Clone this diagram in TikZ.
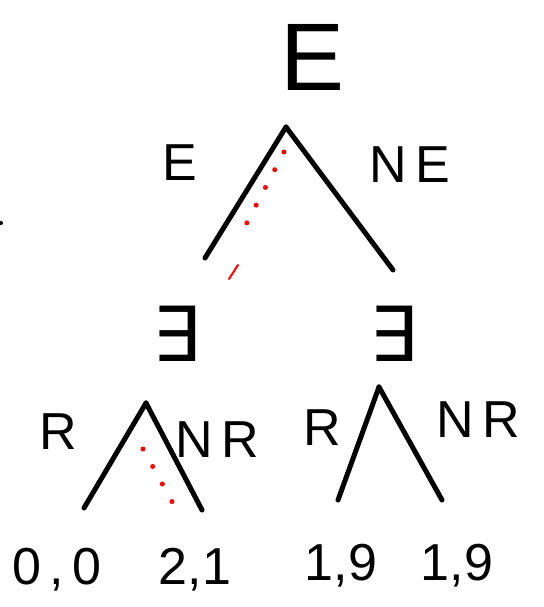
\documentclass[tikz,border=0pt]{standalone}
\usepackage{fontspec}
\setmainfont{Liberation Sans}
\newfontfamily\dejavu{DejaVu Sans}
\begin{document}
\begin{tikzpicture}[x=1pt,y=-1pt,
  branch/.style={line width=5pt,line cap=round,black},
  redpath/.style={red,line width=5pt,line cap=round,dash pattern=on 0pt off 20pt},
  player/.style={inner sep=0pt,font=\dejavu\fontsize{76}{76}\selectfont},
  act/.style={inner sep=0pt,font=\fontsize{52}{52}\selectfont},
  pay/.style={inner sep=0pt,font=\fontsize{52}{52}\selectfont}]
\useasboundingbox (0,0) rectangle (543,607);
% players
\node[inner sep=0pt,font=\fontsize{96}{96}\selectfont] (pE) at (313,57) {E};
\node[player] (pI1) at (177,334) {∃};
\node[player] (pI2) at (394,334) {∃};
% top game
\coordinate (a0) at (286,127);
\coordinate (eL) at (205,258);
\coordinate (eR) at (393,270);
\draw[branch] (a0) -- (eL);
\draw[branch] (a0) -- (eR);
\node[act] (lE) at (180,163) {E};
\node[act] (lNE) at (410,165) {N\,E};
\coordinate (r1) at (284,152);
\coordinate (r2) at (240,236);
\draw[redpath] (r1) -- (r2);
\coordinate (r3) at (238,265);
\coordinate (r4) at (229,279);
\draw[red,line width=2pt,line cap=round] (r3) -- (r4);
% left subgame
\coordinate (a1) at (146,403);
\coordinate (l1) at (84,508);
\coordinate (l2) at (202,510);
\draw[branch] (a1) -- (l1);
\draw[branch] (a1) -- (l2);
\node[act] (lR1) at (58,432) {R};
\node[act] (lNR1) at (217,440) {N\,R};
\coordinate (r5) at (143,449);
\coordinate (r6) at (175,507);
\draw[redpath] (r5) -- (r6);
% right subgame
\coordinate (a2) at (379,387);
\coordinate (m1) at (338,500);
\coordinate (m2) at (442,500);
\draw[branch] (a2) -- (m1);
\draw[branch] (a2) -- (m2);
\node[act] (lR2) at (322,428) {R};
\node[act] (lNR2) at (478,420) {N\,R};
% payoffs
\node[pay] (p1) at (57,570) {0\,,\,0};
\node[pay] (p2) at (195,570) {2,1};
\node[pay] (p3) at (341,566) {1,9};
\node[pay] (p4) at (457,566) {1,9};
% stray mark
\fill (1,223) circle (2pt);
\end{tikzpicture}
\end{document}
